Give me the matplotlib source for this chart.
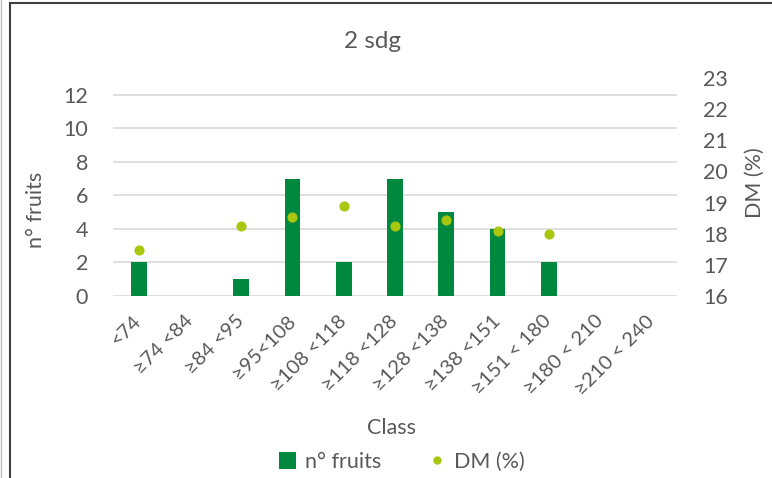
import matplotlib
matplotlib.use('Agg')
import matplotlib.pyplot as plt
import numpy as np
from matplotlib.lines import Line2D
from matplotlib.patches import Patch

plt.rcParams['font.family'] = ['Lato', 'DejaVu Sans']

# data
classes = ['<74', '≥74 <84', '≥84 <95', '≥95<108', '≥108 <118', '≥118 <128',
           '≥128 <138', '≥138 <151', '≥151 < 180', '≥180 < 210', '≥210 < 240']
n_fruits = [2, 0, 1, 7, 2, 7, 5, 4, 2, 0, 0]
dm_pct = [17.47, np.nan, 18.24, 18.55, 18.88, 18.24, 18.45, 18.1, 17.98, np.nan, np.nan]

C_BAR = '#00893E'
C_DOT = '#A8C70F'
C_TXT = '#595959'
C_GRID = '#D9D9D9'

W, H = 772, 478
fig = plt.figure(figsize=(W / 100, H / 100), dpi=100, facecolor='white')
ax = fig.add_axes([113 / W, 1 - 296 / H, 564 / W, 218 / H])
ax2 = ax.twinx()

x = np.arange(len(classes))
ax.bar(x, n_fruits, width=0.31, color=C_BAR, zorder=2)
ax2.plot(x, dm_pct, 'o', color=C_DOT, markersize=6.3, zorder=3)

ax.set_xlim(-0.5, len(classes) - 0.5)
ax.set_ylim(0, 13)
ax.set_yticks(range(0, 13, 2))
ax2.set_ylim(16, 23)
ax2.set_yticks(range(16, 24))

ax.grid(axis='y', color=C_GRID, linewidth=1.2)
ax.set_axisbelow(True)
for a in (ax, ax2):
    for s in a.spines.values():
        s.set_visible(False)
    a.tick_params(length=0, colors=C_TXT, labelsize=15.5)

ax.set_xticks(x)
ax.set_xticklabels(classes, rotation=45, ha='right', va='center',
                   rotation_mode='anchor', fontsize=14.5)
ax.tick_params(axis='x', pad=16)
ax.tick_params(axis='y', pad=18)
ax2.tick_params(axis='y', pad=19)

fig.text(372 / W, 1 - 42 / H, '2 sdg', ha='center', va='center', fontsize=17.5, color=C_TXT)
fig.text(36 / W, 1 - 210 / H, 'n° fruits', ha='center', va='center', rotation=90,
         fontsize=15.5, color=C_TXT)
fig.text(755 / W, 1 - 183 / H, 'DM (%)', ha='center', va='center', rotation=90,
         fontsize=15.5, color=C_TXT)
fig.text(392 / W, 1 - 428 / H, 'Class', ha='center', va='center', fontsize=15.5, color=C_TXT)

handles = [Patch(facecolor=C_BAR, edgecolor='none'),
           Line2D([], [], marker='o', linestyle='none', color=C_DOT, markersize=5)]
fig.legend(handles, ['n° fruits', 'DM (%)'], loc='center', ncol=2, frameon=False,
           bbox_to_anchor=(402 / W, 1 - 462 / H), fontsize=15.5, labelcolor=C_TXT,
           handlelength=0.8, handleheight=0.8, handletextpad=0.4, columnspacing=2.2)

# chart frame
fig.add_artist(Line2D([1 / W, 1 / W], [0, 1], color='#BFBFBF', linewidth=1))
fig.add_artist(Line2D([9.5 / W, 9.5 / W], [0, 1 - 2.5 / H], color='#404040', linewidth=1.5))
fig.add_artist(Line2D([9.5 / W, 1], [1 - 2.5 / H, 1 - 2.5 / H], color='#404040', linewidth=1.5))

fig.savefig('out.png', dpi=100, facecolor='white')
